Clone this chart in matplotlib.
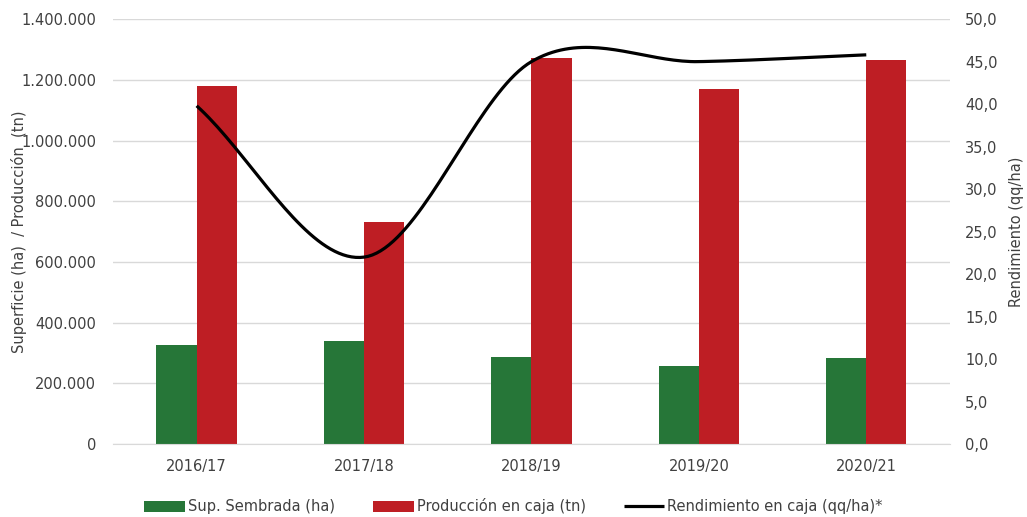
import numpy as np
import matplotlib
matplotlib.use("Agg")
import matplotlib.pyplot as plt
from matplotlib.ticker import FuncFormatter, MultipleLocator

plt.rcParams['font.family'] = ['DejaVu Sans']

# Datos
campanias = ['2016/17', '2017/18', '2018/19', '2019/20', '2020/21']
sup_sembrada = [328000, 340000, 287000, 257000, 285000]
produccion = [1180000, 732000, 1272000, 1169000, 1267000]
rendimiento = [39.8, 22.0, 45.0, 45.0, 45.8]

verde = '#267638'
rojo = '#BE1E24'
gris_texto = '#404040'


# curva suavizada tipo Excel (Catmull-Rom)
def suavizar(y, pasos=40):
    y = np.asarray(y, dtype=float)
    n = len(y)
    m = np.zeros(n)
    m[0] = y[1] - y[0]
    m[-1] = y[-1] - y[-2]
    m[1:-1] = (y[2:] - y[:-2]) / 2
    xs, ys = [], []
    for i in range(n - 1):
        t = np.linspace(0, 1, pasos, endpoint=(i == n - 2))
        h00 = 2 * t**3 - 3 * t**2 + 1
        h10 = t**3 - 2 * t**2 + t
        h01 = -2 * t**3 + 3 * t**2
        h11 = t**3 - t**2
        xs.append(i + t)
        ys.append(h00 * y[i] + h10 * m[i] + h01 * y[i + 1] + h11 * m[i + 1])
    return np.concatenate(xs), np.concatenate(ys)


fig = plt.figure(figsize=(10.27, 5.17), dpi=100)
ax = fig.add_axes([0.110, 0.141, 0.815, 0.822])
ax2 = ax.twinx()

x = np.arange(len(campanias))
ancho = 0.24
b1 = ax.bar(x - ancho / 2, sup_sembrada, ancho, color=verde, label='Sup. Sembrada (ha)', zorder=2)
b2 = ax.bar(x + ancho / 2, produccion, ancho, color=rojo, label='Producción en caja (tn)', zorder=2)

xs, ys = suavizar(rendimiento)
l1, = ax2.plot(xs, ys, color='black', lw=2.3, label='Rendimiento en caja (qq/ha)*',
               solid_capstyle='butt')

ax.set_xlim(-0.5, len(campanias) - 0.5)
ax.set_ylim(0, 1400000)
ax.yaxis.set_major_locator(MultipleLocator(200000))
ax.yaxis.set_major_formatter(FuncFormatter(lambda v, p: f"{v:,.0f}".replace(",", ".")))
ax2.set_ylim(0, 50)
ax2.yaxis.set_major_locator(MultipleLocator(5))
ax2.yaxis.set_major_formatter(FuncFormatter(lambda v, p: f"{v:.1f}".replace(".", ",")))

ax.set_xticks(x)
ax.set_xticklabels(campanias)
ax.grid(axis='y', color='#d9d9d9', lw=1, zorder=0)
ax.set_axisbelow(True)

for a in (ax, ax2):
    for s in a.spines.values():
        s.set_visible(False)
    a.tick_params(length=0, labelsize=10.5, colors=gris_texto)
ax.spines['bottom'].set_visible(True)
ax.spines['bottom'].set_color('#d9d9d9')
ax.tick_params(axis='y', pad=12)
ax.tick_params(axis='x', pad=11)
ax2.tick_params(axis='y', pad=11)

ax.set_ylabel('Superficie (ha)  / Producción  (tn)', fontsize=10.5, color=gris_texto)
ax.yaxis.set_label_coords(-0.103, 0.5)
ax2.set_ylabel('Rendimiento (qq/ha)', fontsize=10.5, color=gris_texto)
ax2.yaxis.set_label_coords(1.071, 0.5)

fig.legend(handles=[b1, b2, l1], loc='lower center', bbox_to_anchor=(0.5, -0.02), ncol=3,
           frameon=False, fontsize=10.5, handlelength=2.8, handleheight=0.8,
           columnspacing=2.6, handletextpad=0.2, labelcolor=gris_texto)

fig.savefig('out.png', dpi=100)
